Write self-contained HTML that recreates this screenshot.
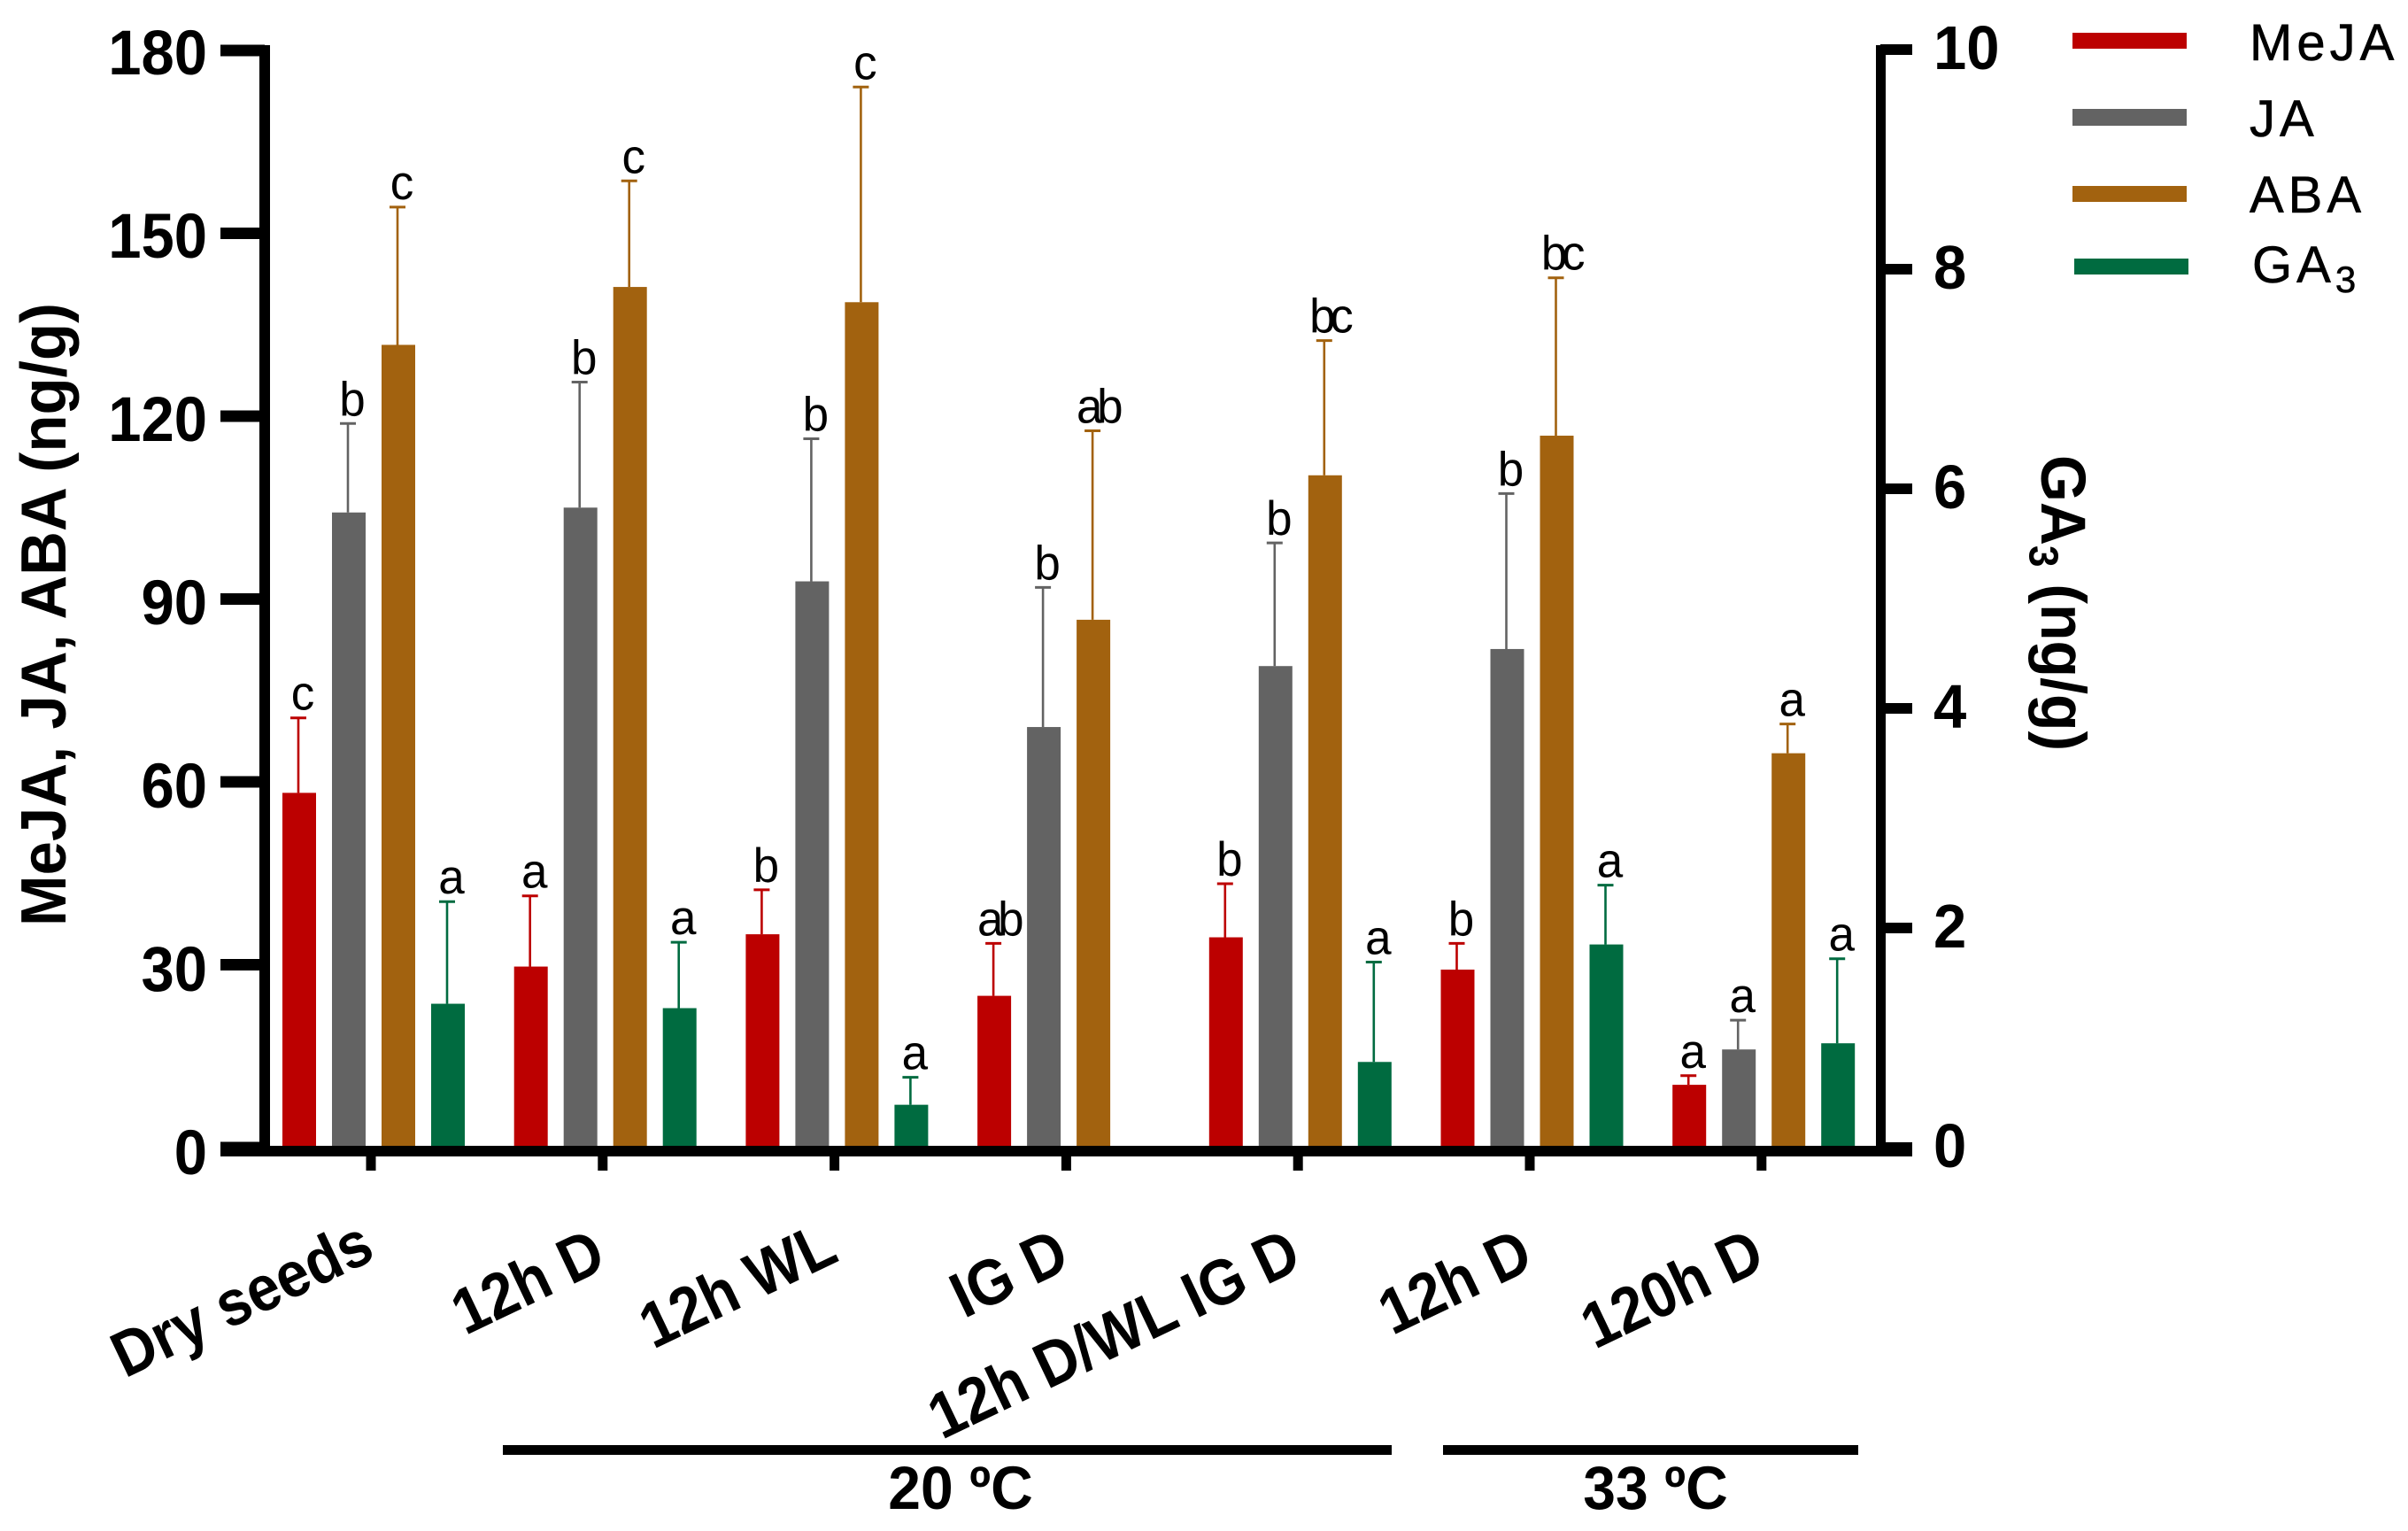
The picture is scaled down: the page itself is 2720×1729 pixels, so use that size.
<!DOCTYPE html>
<html lang="en">
<head>
<meta charset="utf-8">
<title>Hormone content chart</title>
<style>
html,body{margin:0;padding:0;background:#fff;}
svg{display:block;font-family:"Liberation Sans",Arial,sans-serif;}
</style>
</head>
<body>
<svg id="chart" xmlns="http://www.w3.org/2000/svg" width="2720" height="1729" viewBox="0 0 2720 1729">
  <rect x="0" y="0" width="2720" height="1729" fill="#ffffff"/>
  <g id="bars"></g>
  <g id="axes"></g>

  <text transform="translate(74,1046) rotate(-90) scale(1,1.05)" font-size="69" font-weight="700" fill="#000">MeJA, JA, ABA (ng/g)</text>
  <text transform="translate(2306,514) rotate(90) scale(1,1.05)" font-size="68" font-weight="700" fill="#000">GA<tspan font-size="44" dy="13">3</tspan><tspan dy="-13"> (ng/g)</tspan></text>

  <g>
    <rect x="2341" y="37" width="129" height="18" fill="#BC0000"/>
    <text x="2541" y="68" font-size="58" letter-spacing="5" fill="#000" stroke="#000" stroke-width="0.6">MeJA</text>
    <rect x="2341" y="123" width="129" height="19" fill="#636363"/>
    <text x="2541" y="154" font-size="58" letter-spacing="5" fill="#000" stroke="#000" stroke-width="0.6">JA</text>
    <rect x="2341" y="210" width="129" height="18" fill="#A2620F"/>
    <text x="2541" y="240" font-size="58" letter-spacing="5" fill="#000" stroke="#000" stroke-width="0.6">ABA</text>
    <rect x="2343" y="292" width="129" height="18" fill="#006B40"/>
    <text x="2544" y="319" font-size="58" letter-spacing="5" fill="#000" stroke="#000" stroke-width="0.6">GA<tspan font-size="42" dy="11">3</tspan></text>
  </g>

  <rect x="568" y="1632" width="1004" height="11" fill="#000"/>
  <text transform="translate(1085,1704) scale(1,1.04)" font-size="66" font-weight="700" text-anchor="middle" fill="#000">20 ºC</text>
  <rect x="1630" y="1632" width="469" height="11" fill="#000"/>
  <text transform="translate(1870,1704) scale(1,1.04)" font-size="66" font-weight="700" text-anchor="middle" fill="#000">33 ºC</text>
</svg>
<script>
const categories = ["Dry seeds", "12h D", "12h WL", "IG D", "12h D/WL IG D", "12h D", "120h D"];
const leftTicks = [0, 30, 60, 90, 120, 150, 180];
const rightTicks = [0, 2, 4, 6, 8, 10];

const mejaValues = [58.2, 29.7, 35.0, 24.9, 34.5, 29.2, 10.3];
const mejaErrorTops = [70.5, 41.3, 42.3, 33.5, 43.3, 33.5, 11.8];
const mejaLetters = ["c", "a", "b", "ab", "b", "b", "a"];

const jaValues = [104.2, 105.0, 92.9, 69.0, 79.0, 81.8, 16.1];
const jaErrorTops = [118.8, 125.6, 116.3, 91.9, 99.2, 107.3, 20.9];
const jaLetters = ["b", "b", "b", "b", "b", "b", "a"];

const abaValues = [131.7, 141.2, 138.7, 86.6, 110.3, 116.8, 64.7];
const abaErrorTops = [154.3, 158.6, 174.0, 117.6, 132.4, 142.7, 69.5];
const abaLetters = ["c", "c", "c", "ab", "bc", "bc", "a"];

const ga3Values = [1.31, 1.27, 0.39, null, 0.78, 1.85, 0.95];
const ga3ErrorTops = [2.24, 1.87, 0.64, null, 1.69, 2.39, 1.72];
const ga3Letters = ["a", "a", "a", "", "a", "a", "a"];

const SVG_NS = "http://www.w3.org/2000/svg";
const barsLayer = document.getElementById("bars");
const axesLayer = document.getElementById("axes");

function yLeft(v) { return 1296 - v * (1239 / 180); }
function yRight(v) { return 1296 - v * 124; }
function tickX(i) { return 419 + 261.8 * i; }
function barX(i, s) { return 319 + 261.7 * i + 56 * s; }

function make(tag, attrs, parent, text) {
  const node = document.createElementNS(SVG_NS, tag);
  Object.keys(attrs).forEach(function (k) { node.setAttribute(k, attrs[k]); });
  if (text !== undefined) node.textContent = text;
  parent.appendChild(node);
  return node;
}

const BAR_W = 38;

function drawSeries(key, color, values, tops, letters, scale, s) {
  values.forEach(function (v, i) {
    if (v === null) return;
    const x = barX(i, s);
    const cx = x + BAR_W / 2 - 1;
    const top = scale(v);
    const errTop = scale(tops[i]);

    const bar = make("rect", { x: x, y: top, width: BAR_W, height: 1296 - top, fill: color }, barsLayer);
    
    

    const stem = make("line", { x1: cx, x2: cx, y1: top, y2: errTop, stroke: color, "stroke-width": 2.6 }, barsLayer);
    
    

    const cap = make("line", { x1: cx - 9, x2: cx + 9, y1: errTop, y2: errTop, stroke: color, "stroke-width": 3 }, barsLayer);
    
    

    const label = make("text", {
      transform: "translate(" + (cx + 5) + "," + (errTop - 9) + ") scale(1.06,1.1)",
      "font-size": 50, "text-anchor": "middle", fill: "#000",
      "letter-spacing": letters[i].length > 1 ? -6 : 0
    }, barsLayer, letters[i]);
    
    
  });
}

drawSeries("meja", "#BC0000", mejaValues, mejaErrorTops, mejaLetters, yLeft, 0);
drawSeries("ja", "#636363", jaValues, jaErrorTops, jaLetters, yLeft, 1);
drawSeries("aba", "#A2620F", abaValues, abaErrorTops, abaLetters, yLeft, 2);
drawSeries("ga3", "#006B40", ga3Values, ga3ErrorTops, ga3Letters, yRight, 3);

const leftAxisLine = make("rect", { x: 293, y: 51, width: 12, height: 1255, fill: "#000" }, axesLayer);



const rightAxisLine = make("rect", { x: 2119, y: 51, width: 11, height: 1255, fill: "#000" }, axesLayer);



const xAxisLine = make("rect", { x: 249, y: 1294, width: 1911, height: 12, fill: "#000" }, axesLayer);



leftTicks.forEach(function (v) {
  const y = yLeft(v);
  const tick = make("rect", { x: 249, y: y - 6.5, width: 50, height: 13, fill: "#000" }, axesLayer);
  
  
  const label = make("text", {
    transform: "translate(234," + (y + 30 - 3 * v / 180) + ") scale(1,1.06)",
    "font-size": 67, "font-weight": 700, "text-anchor": "end", fill: "#000"
  }, axesLayer, String(v));
  
  
});

rightTicks.forEach(function (v) {
  const y = yRight(v);
  const tick = make("rect", { x: 2124, y: y - 6, width: 36, height: 12, fill: "#000" }, axesLayer);
  
  
  const label = make("text", {
    transform: "translate(2184," + (y + 22) + ") scale(1,1.04)",
    "font-size": 67, "font-weight": 700, fill: "#000"
  }, axesLayer, String(v));
  
  
});

categories.forEach(function (c, i) {
  const x = tickX(i);
  const tick = make("rect", { x: x - 5.5, y: 1306, width: 11, height: 16, fill: "#000" }, axesLayer);
  
  
  const label = make("text", {
    transform: "translate(" + (x + 7) + "," + (i === 0 ? 1421 : i === 2 ? 1423 : 1431) + ") rotate(-25.5) scale(1,1.1)",
    "font-size": 66, "font-weight": 700, "text-anchor": "end", fill: "#000"
  }, axesLayer, c);
  
  
});
</script>
</body>
</html>
